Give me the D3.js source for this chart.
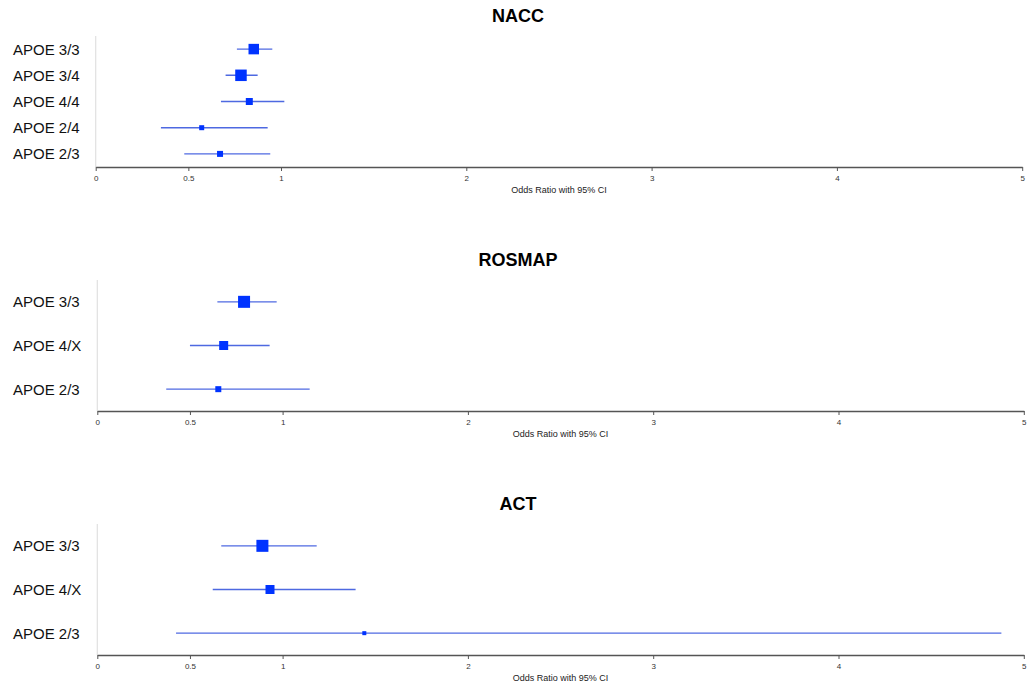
<!DOCTYPE html>
<html>
<head>
<meta charset="utf-8">
<script src="https://cdn.jsdelivr.net/npm/d3@7"></script>
<style>
  body { margin: 0; background: #fff; }
  text { font-family: "Liberation Sans", Arial, Helvetica, sans-serif; }
</style>
</head>
<body>
<script>
(function(){

//cohort names
var cohorts = ["NACC", "ROSMAP", "ACT"];

//genotype rows per cohort
var naccRows = ["APOE 3/3", "APOE 3/4", "APOE 4/4", "APOE 2/4", "APOE 2/3"];
var rosmapRows = ["APOE 3/3", "APOE 4/X", "APOE 2/3"];
var actRows = ["APOE 3/3", "APOE 4/X", "APOE 2/3"];

//odds ratios, lower and upper 95% CI
var naccOR = [0.853, 0.784, 0.829, 0.572, 0.671];
var naccLo = [0.762, 0.701, 0.676, 0.352, 0.478];
var naccHi = [0.953, 0.874, 1.018, 0.928, 0.942];

var rosmapOR = [0.792, 0.682, 0.653];
var rosmapLo = [0.648, 0.500, 0.372];
var rosmapHi = [0.968, 0.930, 1.146];

var actOR = [0.891, 0.932, 1.441];
var actLo = [0.669, 0.623, 0.425];
var actHi = [1.184, 1.394, 4.879];

//relative weight of each estimate (box size)
var naccWeight = [10.5, 11.5, 7, 5, 6];
var rosmapWeight = [12, 9, 6];
var actWeight = [12, 9, 4];

var xTicks = [0, 0.5, 1, 2, 3, 4, 5];

var width = 1028,
    height = 687;

var svg = d3.select("body")
    .append("svg")
    .attr("width", width)
    .attr("height", height);

var panels = [
    {name: cohorts[0], rows: naccRows, or: naccOR, lo: naccLo, hi: naccHi, w: naccWeight},
    {name: cohorts[1], rows: rosmapRows, or: rosmapOR, lo: rosmapLo, hi: rosmapHi, w: rosmapWeight},
    {name: cohorts[2], rows: actRows, or: actOR, lo: actLo, hi: actHi, w: actWeight}
];

//layout of each panel
var tops = [36, 280, 524],
    lefts = [95.7, 97.3, 97.3],
    plotH = 131;

var boxScale = d3.scaleLinear().domain([0, 12]).range([0, 12]);

panels.forEach(function(p, k){
    drawPanel(p, tops[k], lefts[k]);
});

function drawPanel(p, top, left){
    var right = left + 926.5;

    var x = d3.scaleLinear()
        .domain([0, 5])
        .range([left, right]);

    var y = d3.scaleBand()
        .domain(p.rows)
        .range([top, top + plotH]);

    var g = svg.append("g").attr("class", "panel");

    //title
    g.append("text")
        .attr("x", 518)
        .attr("y", top - 14)
        .attr("text-anchor", "middle")
        .style("font-size", "18px")
        .style("font-weight", "bold")
        .text(p.name);

    //left light axis line
    g.append("line")
        .attr("x1", left).attr("x2", left)
        .attr("y1", top).attr("y2", top + plotH)
        .attr("stroke", "#e0e0e0")
        .attr("stroke-width", 1.2);

    //bottom axis
    var axis = g.append("g")
        .attr("transform", "translate(0," + (top + plotH) + ")")
        .call(d3.axisBottom(x)
            .tickValues(xTicks)
            .tickFormat(d3.format("~g"))
            .tickSize(4)
            .tickSizeOuter(0));
    axis.select(".domain").attr("stroke", "#555").attr("stroke-width", 1.5);
    axis.selectAll(".tick line").attr("stroke", "#555");
    axis.selectAll(".tick text")
        .attr("fill", "#333")
        .attr("dy", "0.9em")
        .style("font-size", "8px")
        .style("font-family", "'Liberation Sans', Arial, sans-serif");

    g.append("text")
        .attr("x", (left + right) / 2)
        .attr("y", top + plotH + 26)
        .attr("text-anchor", "middle")
        .attr("fill", "#222")
        .style("font-size", "9px")
        .text("Odds Ratio with 95% CI");

    //row labels
    g.selectAll(".rowlab")
        .data(p.rows)
        .enter()
        .append("text")
        .attr("class", "rowlab")
        .attr("x", 13)
        .attr("y", function(d){ return y(d) + y.bandwidth() / 2; })
        .attr("dy", "0.36em")
        .attr("fill", "#111")
        .style("font-size", "15px")
        .text(function(d){ return d; });

    var idx = d3.range(p.rows.length);

    //CI lines
    g.selectAll(".ci")
        .data(idx)
        .enter()
        .append("line")
        .attr("class", "ci")
        .attr("x1", function(i){ return x(p.lo[i]); })
        .attr("x2", function(i){ return x(p.hi[i]); })
        .attr("y1", function(i){ return y(p.rows[i]) + y.bandwidth() / 2; })
        .attr("y2", function(i){ return y(p.rows[i]) + y.bandwidth() / 2; })
        .attr("stroke", "#2f4fdc")
        .attr("stroke-opacity", 0.85)
        .attr("stroke-width", 1.4);

    //point estimate boxes
    g.selectAll(".box")
        .data(idx)
        .enter()
        .append("rect")
        .attr("class", "box")
        .attr("x", function(i){ return x(p.or[i]) - boxScale(p.w[i]) / 2; })
        .attr("y", function(i){ return y(p.rows[i]) + y.bandwidth() / 2 - boxScale(p.w[i]) / 2; })
        .attr("width", function(i){ return boxScale(p.w[i]); })
        .attr("height", function(i){ return boxScale(p.w[i]); })
        .attr("fill", "#0033ff");
}

})();
</script>
</body>
</html>
